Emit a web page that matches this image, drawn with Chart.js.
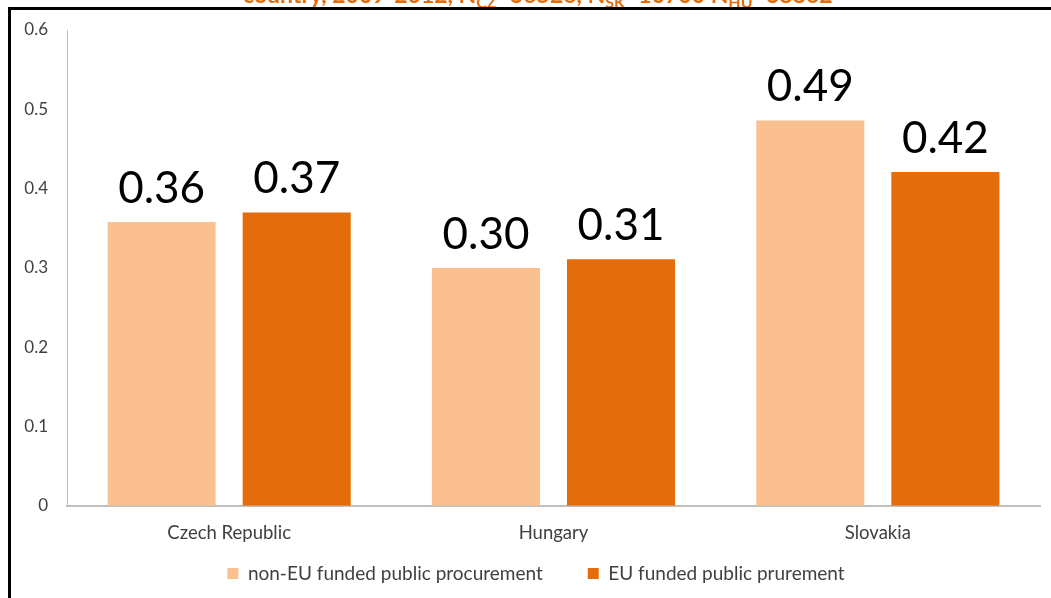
<!DOCTYPE html>
<html>
<head>
<meta charset="utf-8">
<script src="https://cdn.jsdelivr.net/npm/chart.js@4.4.1/dist/chart.umd.min.js"></script>
<style>
  html, body { margin: 0; padding: 0; background: #fff; }
  #wrap { position: relative; width: 1051px; height: 598px; overflow: hidden; }
  canvas { position: absolute; left: 0; top: 0; }
</style>
</head>
<body>
<div id="wrap"><canvas id="c" width="1051" height="598"></canvas></div>
<script>
const categories = ["Czech Republic", "Hungary", "Slovakia"];
const nonEU = [0.358, 0.300, 0.486];
const euFunded = [0.370, 0.311, 0.421];
const seriesNames = ["non-EU funded public procurement", "EU funded public prurement"];
const yTicks = [0, 0.1, 0.2, 0.3, 0.4, 0.5, 0.6];
const titleParts = [
  ["country, 2009-2012, N", false], ["CZ", true], ["=36526, N", false], ["SK", true],
  ["=10700 N", false], ["HU", true], ["=38862", false]
];

const LEGEND_SHRINK = 33;
const LEGEND_DX = 16;
const legendTweak = {
  id: 'legendTweak',
  beforeLayout(chart) {
    const lg = chart.legend;
    if (!lg || lg._tweaked) return;
    lg._tweaked = true;
    const origFit = lg.fit.bind(lg);
    lg.fit = function () { origFit(); this.height = Math.max(0, this.height - LEGEND_SHRINK); };
    const origDraw = lg.draw.bind(lg);
    lg.draw = function () {
      this.top -= LEGEND_SHRINK; this.left += LEGEND_DX; this.right += LEGEND_DX;
      origDraw();
      this.top += LEGEND_SHRINK; this.left -= LEGEND_DX; this.right -= LEGEND_DX;
    };
  }
};

const frame = {
  id: 'frame',
  afterDraw(chart) {
    const ctx = chart.ctx;
    ctx.save();
    ctx.beginPath(); ctx.rect(0, 0, chart.width, 7); ctx.clip();
    ctx.fillStyle = '#E46C0A';
    ctx.textBaseline = 'alphabetic';
    let x = 243;
    for (const [t, sub] of titleParts) {
      ctx.font = sub ? 'bold 16px Lato' : 'bold 23px Lato';
      const y = sub ? 8 : 3;
      ctx.fillText(t, x, y);
      x += ctx.measureText(t).width;
    }
    ctx.restore();
    ctx.save();
    ctx.fillStyle = '#000';
    ctx.fillRect(8, 7, chart.width - 8, 3);
    ctx.fillRect(8, 7, 3, chart.height - 7);
    ctx.restore();
  }
};

const barLabels = {
  id: 'barLabels',
  afterDatasetsDraw(chart) {
    const ctx = chart.ctx;
    ctx.save();
    ctx.font = '44px Lato';
    ctx.fillStyle = '#000';
    ctx.textAlign = 'center';
    ctx.textBaseline = 'alphabetic';
    chart.data.datasets.forEach((ds, i) => {
      const meta = chart.getDatasetMeta(i);
      meta.data.forEach((bar, j) => {
        ctx.fillText(ds.data[j].toFixed(2), bar.x, bar.y - 19);
      });
    });
    ctx.restore();
  }
};

new Chart(document.getElementById('c'), {
  type: 'bar',
  data: {
    labels: categories,
    datasets: [
      { label: seriesNames[0], data: nonEU, backgroundColor: '#FAC090' },
      { label: seriesNames[1], data: euFunded, backgroundColor: '#E46C0A' }
    ]
  },
  options: {
    responsive: false,
    animation: false,
    devicePixelRatio: 1,
    layout: { padding: { top: 30, right: 11, left: 0, bottom: 5 } },
    datasets: { bar: { categoryPercentage: 0.833, barPercentage: 0.8 } },
    plugins: {
      legend: {
        position: 'bottom',
        labels: {
          boxWidth: 11, boxHeight: 11, padding: 45,
          color: '#404040', font: { family: 'Lato', size: 19 }
        }
      },
      tooltip: { enabled: false },
      title: { display: false }
    },
    scales: {
      x: {
        grid: { display: false },
        border: { display: true, color: '#BFBFBF', width: 2 },
        ticks: { color: '#404040', font: { family: 'Lato', size: 18.5 }, padding: 8 }
      },
      y: {
        min: 0, max: 0.6,
        afterFit(s) { s.width = 67; },
        afterBuildTicks(s) { s.ticks = yTicks.map(v => ({ value: v })); },
        grid: { display: false, drawTicks: false },
        border: { display: true, color: '#BFBFBF', width: 1 },
        ticks: {
          color: '#404040', font: { family: 'Lato', size: 17 }, padding: 19,
          callback: v => v === 0 ? '0' : v.toFixed(1)
        }
      }
    }
  },
  plugins: [legendTweak, frame, barLabels]
});
</script>
</body>
</html>
